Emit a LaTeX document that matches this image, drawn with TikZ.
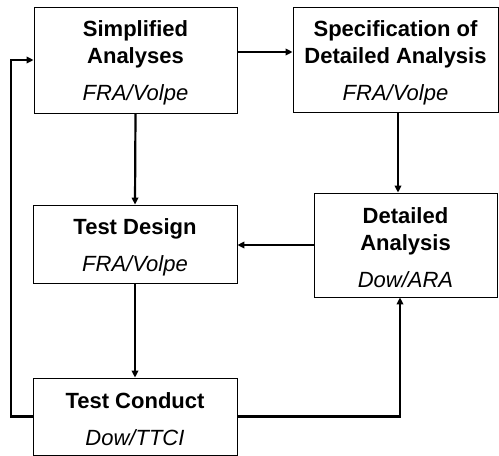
\documentclass[tikz,border=0pt]{standalone}
\usepackage{fontspec}
\setmainfont{Liberation Sans}
\usetikzlibrary{arrows.meta}
\begin{document}
\begin{tikzpicture}[x=1pt,y=-1pt,
  stage/.style={draw, line width=0.8pt, inner sep=0pt, align=center,
    font=\fontsize{22}{27}\selectfont},
  flow/.style={line width=2.2pt, -{Triangle[length=7pt,width=6.5pt]}}]
  \newcommand{\who}[1]{\\[10pt]\normalfont\itshape #1}
  \newcommand{\lead}{\rule{0pt}{22pt}\bfseries}
  \useasboundingbox (0,0) rectangle (499,456);

  \node[stage, minimum width=203pt, minimum height=106pt] (simple) at (135.5,60)
    {\lead Simplified\\\bfseries Analyses\who{FRA/Volpe}};
  \node[stage, minimum width=205pt, minimum height=105pt] (spec) at (395.5,59.5)
    {\lead Specification of\\\bfseries Detailed Analysis\who{FRA/Volpe}};
  \node[stage, minimum width=204pt, minimum height=78pt] (design) at (135,244)
    {\lead Test Design\who{FRA/Volpe}};
  \node[stage, minimum width=183pt, minimum height=104pt] (detail) at (405.5,245)
    {\lead Detailed\\\bfseries Analysis\who{Dow/ARA}};
  \node[stage, minimum width=204pt, minimum height=77pt] (conduct) at (135,416.5)
    {\lead Test Conduct\who{Dow/TTCI}};

  \coordinate (up) at ([xshift=-5.5pt]detail.south);
  \coordinate (down) at ([xshift=2.5pt]spec.south);

  \draw[flow] ([yshift=8pt]simple.east) -- ([yshift=8pt]simple.east -| spec.west);
  \draw[flow] (simple.south) -- (design.north);
  \draw[flow] (down) -- (down |- detail.north);
  \draw[flow] (detail.west) -- (detail.west -| design.east);
  \draw[flow] (design.south) -- (conduct.north);
  \draw[flow] (conduct.east) -| (up);
  \draw[flow] (conduct.west) -- ++(-22,0) |- (simple.west);
\end{tikzpicture}
\end{document}
